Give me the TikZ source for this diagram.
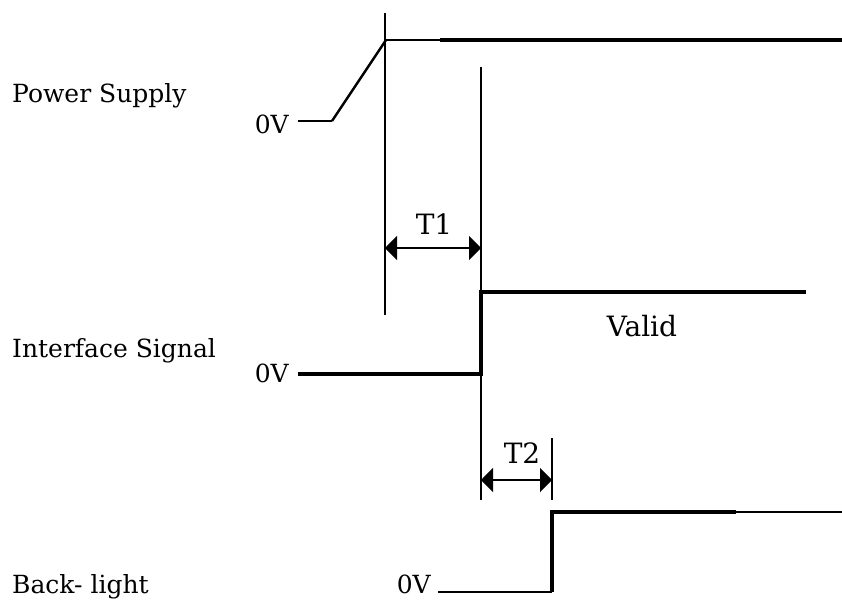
\documentclass[tikz,border=0pt]{standalone}
\usepackage{fontspec}
\setmainfont{DejaVu Serif}
\usetikzlibrary{arrows.meta}
\begin{document}
\begin{tikzpicture}[x=1pt,y=-1pt,
  lbl/.style={font=\fontsize{25}{28}\selectfont, inner sep=0pt},
  big/.style={font=\fontsize{28}{31}\selectfont, inner sep=0pt},
  sigline/.style={line width=3.3pt},
  thinline/.style={line width=1.4pt},
  vline/.style={line width=2.4pt},
  dimline/.style={line width=2.2pt, {Triangle[length=12pt,width=24pt]}-{Triangle[length=12pt,width=24pt]}}]
\useasboundingbox (0,0) rectangle (842,600);
% row labels
\node[lbl, anchor=base west] (ps) at (12,102) {Power Supply};
\node[lbl, anchor=base west] (is) at (12,357) {Interface Signal};
\node[lbl, anchor=base west] (bl) at (12,593) {Back- light};
% 0V labels
\node[lbl, anchor=base east] (z1) at (289,133) {0V};
\node[lbl, anchor=base east] (z2) at (289,382) {0V};
\node[lbl, anchor=base east] (z3) at (431,593) {0V};
% other labels
\node[big, anchor=base] (t1) at (434,234) {T1};
\node[big, anchor=base] (t2) at (522,463) {T2};
\node[big, anchor=base] (valid) at (642,336) {Valid};
% coordinates
\coordinate (p0) at (298,121);
\coordinate (p1) at (332,121);
\coordinate (p2) at (386,40);
\coordinate (p2b) at (440,40);
\coordinate (p3) at (842,40);
\coordinate (va) at (385,13);
\coordinate (vb) at (385,315);
\coordinate (vc) at (481,67);
\coordinate (vd) at (481,500);
\coordinate (i0) at (298,374);
\coordinate (i1) at (481,374);
\coordinate (i2) at (481,292);
\coordinate (i3) at (806,292);
\coordinate (a1l) at (385,248);
\coordinate (a1r) at (481,248);
\coordinate (a2l) at (481,480);
\coordinate (a2r) at (552,480);
\coordinate (ve) at (552,438);
\coordinate (vf) at (552,500);
\coordinate (b0) at (438,592);
\coordinate (b1) at (552,592);
\coordinate (b2) at (552,512);
\coordinate (b3) at (736,512);
\coordinate (b4) at (842,512);
% power supply
\draw[thinline] (p0) -- (p1);
\draw[vline] (p1) -- (p2);
\draw[thinline] (p2) -- (p2b);
\draw[sigline] (p2b) -- (p3);
% vertical markers
\draw[vline] (va) -- (vb);
\draw[vline] (vc) -- (vd);
\draw[vline] (ve) -- (vf);
% interface signal
\draw[sigline] (i0) -- (i1) -- (i2) -- (i3);
% backlight
\draw[thinline] (b0) -- (b1);
\draw[sigline] (b1) -- (b2) -- (b3);
\draw[thinline] (b3) -- (b4);
% dimensions
\draw[dimline] (a1l) -- (a1r);
\draw[dimline] (a2l) -- (a2r);
\end{tikzpicture}
\end{document}
